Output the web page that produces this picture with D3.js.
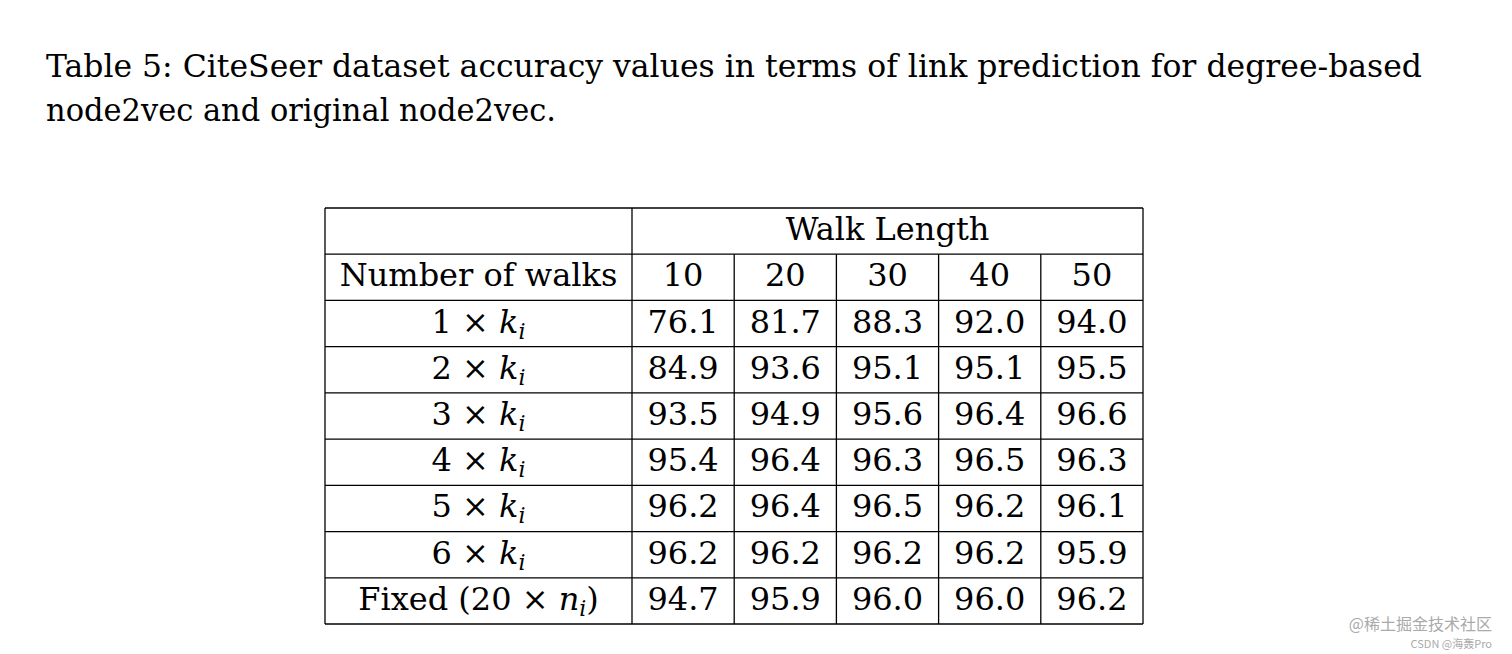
<!DOCTYPE html>
<html><head><meta charset="utf-8">
<script src="https://cdn.jsdelivr.net/npm/d3@7"></script>
<style>body{margin:0;background:#fff}</style></head>
<body><svg id="c" width="1512" height="654"></svg>
<script>
const titleLines = ["Table 5: CiteSeer dataset accuracy values in terms of link prediction for degree-based","node2vec and original node2vec."];
const walkLengths = ["10","20","30","40","50"];
const rowMult = ["1","2","3","4","5","6","Fixed"];
const values = [
 [76.1,81.7,88.3,92.0,94.0],
 [84.9,93.6,95.1,95.1,95.5],
 [93.5,94.9,95.6,96.4,96.6],
 [95.4,96.4,96.3,96.5,96.3],
 [96.2,96.4,96.5,96.2,96.1],
 [96.2,96.2,96.2,96.2,95.9],
 [94.7,95.9,96.0,96.0,96.2]
];
const svg = d3.select("#c");
const font = "'DejaVu Serif','Liberation Serif',serif";
svg.append("text").attr("x",46).attr("y",77).attr("font-family",font).attr("font-size",31)
  .attr("textLength",1376).attr("lengthAdjust","spacingAndGlyphs").text(titleLines[0]);
svg.append("text").attr("x",46).attr("y",121).attr("font-family",font).attr("font-size",31)
  .attr("textLength",510).attr("lengthAdjust","spacingAndGlyphs").text(titleLines[1]);

const L=325, C0=632, R=1143, T=208, B=624;
const x = d3.scaleBand().domain(walkLengths).range([C0,R]);
const rowKeys = ["head","sub",...rowMult];
const y = d3.scaleBand().domain(rowKeys).range([T,B]);
const g = svg.append("g").attr("stroke","#000").attr("stroke-width",1.3);
rowKeys.forEach(k=>g.append("line").attr("x1",L).attr("x2",R).attr("y1",y(k)).attr("y2",y(k)));
g.append("line").attr("x1",L).attr("x2",R).attr("y1",B).attr("y2",B);
[L,C0,R].forEach(v=>g.append("line").attr("x1",v).attr("x2",v).attr("y1",T).attr("y2",B));
walkLengths.slice(1).forEach(w=>g.append("line").attr("x1",x(w)).attr("x2",x(w)).attr("y1",y("sub")).attr("y2",B));

const fs=32;
function txt(cx,k,s){return svg.append("text").attr("x",cx).attr("y",y(k)+y.bandwidth()/2+9)
  .attr("text-anchor","middle").attr("font-family",font).attr("font-size",fs).text(s);}
txt((C0+R)/2,"head","Walk Length");
txt((L+C0)/2,"sub","Number of walks");
walkLengths.forEach(w=>txt(x(w)+x.bandwidth()/2,"sub",w));
rowMult.forEach((m,i)=>{
  const t = txt((L+C0)/2, m, "");
  if(m==="Fixed"){
    t.append("tspan").text("Fixed (20 × ");
    t.append("tspan").attr("font-style","italic").text("n");
    t.append("tspan").attr("font-style","italic").attr("font-size",22).attr("dy",6).text("i");
    t.append("tspan").attr("dy",-6).text(")");
  } else {
    t.append("tspan").text(m+" × ");
    t.append("tspan").attr("font-style","italic").text("k");
    t.append("tspan").attr("font-style","italic").attr("font-size",22).attr("dy",6).text("i");
  }
  values[i].forEach((v,j)=>txt(x(walkLengths[j])+x.bandwidth()/2, m, v.toFixed(1)));
});
svg.append("text").attr("x",1492).attr("y",630).attr("text-anchor","end").attr("fill","#aaa")
  .attr("font-family","'Noto Sans CJK SC',sans-serif").attr("font-size",16).text("@稀土掘金技术社区");
svg.append("text").attr("x",1492).attr("y",648).attr("text-anchor","end").attr("fill","#aaa")
  .attr("font-family","'Noto Sans CJK SC',sans-serif").attr("font-size",11).text("CSDN @海轰Pro");
</script></body></html>
